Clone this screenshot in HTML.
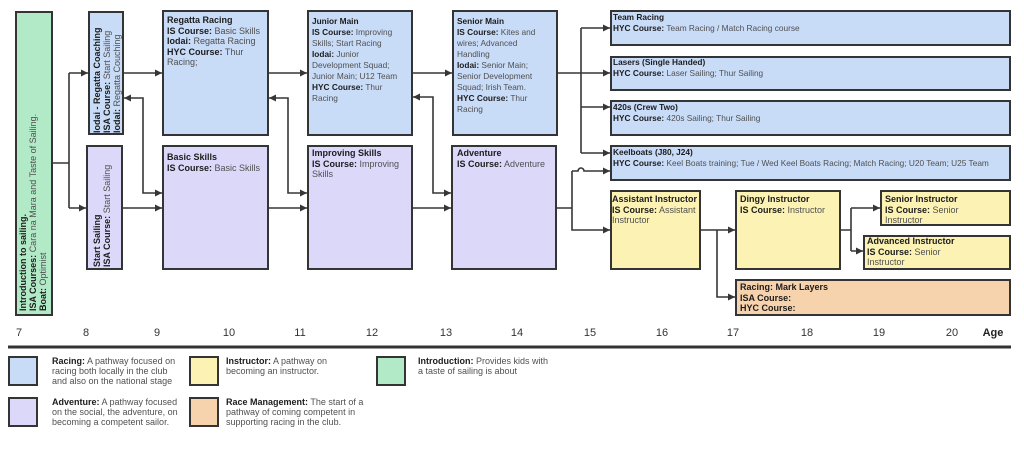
<!DOCTYPE html>
<html><head><meta charset="utf-8">
<style>
html,body{margin:0;padding:0;background:#fff;}
#c{position:relative;width:1024px;height:458px;overflow:hidden;background:#fff;font-family:"Liberation Sans",Arial,sans-serif;}
.b{position:absolute;box-sizing:border-box;border:2px solid #343434;}
.bl{background:#c8dbf7;}
.pu{background:#dcd8fa;}
.gr{background:#b2eac7;}
.ye{background:#fcf2b3;}
.or{background:#f6d2ad;}
.t{position:absolute;white-space:nowrap;color:#505050;}
.t b{color:#1c1c1c;}
.a{font-size:9px;line-height:10.5px;}
.o{font-size:8.3px;line-height:11px;}
.r{font-size:9px;line-height:10px;transform-origin:0 0;transform:rotate(-90deg);}
.n{position:absolute;top:327px;font-size:11px;line-height:13px;color:#333;transform:translateX(-50%);}
.lg{font-size:9px;line-height:10px;}
svg{position:absolute;left:0;top:0;}
</style></head><body>
<div id="c">
<!-- boxes -->
<div class="b gr" style="left:15px;top:11px;width:38px;height:305px"></div>
<div class="b bl" style="left:88px;top:11px;width:36px;height:124px"></div>
<div class="b pu" style="left:86px;top:145px;width:37px;height:125px"></div>
<div class="b bl" style="left:162px;top:10px;width:107px;height:126px"></div>
<div class="b pu" style="left:162px;top:145px;width:107px;height:125px"></div>
<div class="b bl" style="left:307px;top:10px;width:106px;height:126px"></div>
<div class="b pu" style="left:307px;top:145px;width:106px;height:125px"></div>
<div class="b bl" style="left:452px;top:10px;width:106px;height:126px"></div>
<div class="b pu" style="left:451px;top:145px;width:106px;height:125px"></div>
<div class="b bl" style="left:610px;top:10px;width:401px;height:36px"></div>
<div class="b bl" style="left:610px;top:56px;width:401px;height:35px"></div>
<div class="b bl" style="left:610px;top:100px;width:401px;height:36px"></div>
<div class="b bl" style="left:610px;top:145px;width:401px;height:36px"></div>
<div class="b ye" style="left:610px;top:190px;width:91px;height:80px"></div>
<div class="b ye" style="left:735px;top:190px;width:106px;height:80px"></div>
<div class="b ye" style="left:880px;top:190px;width:131px;height:36px"></div>
<div class="b ye" style="left:863px;top:235px;width:148px;height:35px"></div>
<div class="b or" style="left:735px;top:279px;width:276px;height:37px"></div>

<!-- rotated texts -->
<div class="t r" style="left:18px;top:311px;"><b>Introduction to sailing.</b><br><b>ISA Courses:</b> Cara na Mara and Taste of Sailing.<br><b>Boat:</b> Optimist</div>
<div class="t r" style="left:92px;top:133px;"><b>Iodai - Regatta Coaching</b><br><b>ISA Course:</b> Start Sailing<br><b>Iodai:</b> Regatta Couching</div>
<div class="t r" style="left:92px;top:267px;"><b>Start Sailing</b><br><b>ISA Course:</b> Start Sailing</div>

<!-- box texts -->
<div class="t a" style="left:167px;top:15px;"><b>Regatta Racing</b><br><b>IS Course:</b> Basic Skills<br><b>Iodai:</b> Regatta Racing<br><b>HYC Course:</b> Thur<br>Racing;</div>
<div class="t a" style="left:167px;top:152px;"><b>Basic Skills</b><br><b>IS Course:</b> Basic Skills</div>
<div class="t o" style="left:312px;top:16px;"><b>Junior Main</b><br><b>IS Course:</b> Improving<br>Skills; Start Racing<br><b>Iodai:</b> Junior<br>Development Squad;<br>Junior Main; U12 Team<br><b>HYC Course:</b> Thur<br>Racing</div>
<div class="t a" style="left:312px;top:148px;"><b>Improving Skills</b><br><b>IS Course:</b> Improving<br>Skills</div>
<div class="t o" style="left:457px;top:16px;"><b>Senior Main</b><br><b>IS Course:</b> Kites and<br>wires; Advanced<br>Handling<br><b>Iodai:</b> Senior Main;<br>Senior Development<br>Squad; Irish Team.<br><b>HYC Course:</b> Thur<br>Racing</div>
<div class="t a" style="left:457px;top:148px;"><b>Adventure</b><br><b>IS Course:</b> Adventure</div>
<div class="t o" style="left:613px;top:11.5px;"><b>Team Racing</b><br><b>HYC Course:</b> Team Racing / Match Racing course</div>
<div class="t o" style="left:613px;top:56.5px;"><b>Lasers (Single Handed)</b><br><b>HYC Course:</b> Laser Sailing; Thur Sailing</div>
<div class="t o" style="left:613px;top:101.5px;"><b>420s (Crew Two)</b><br><b>HYC Course:</b> 420s Sailing; Thur Sailing</div>
<div class="t o" style="left:613px;top:146.5px;"><b>Keelboats (J80, J24)</b><br><b>HYC Course:</b> Keel Boats training; Tue / Wed Keel Boats Racing; Match Racing; U20 Team; U25 Team</div>
<div class="t a" style="left:612px;top:194px;"><b>Assistant Instructor</b><br><b>IS Course:</b> Assistant<br>Instructor</div>
<div class="t a" style="left:740px;top:194px;"><b>Dingy Instructor</b><br><b>IS Course:</b> Instructor</div>
<div class="t a" style="left:885px;top:194px;"><b>Senior Instructor</b><br><b>IS Course:</b> Senior<br>Instructor</div>
<div class="t a" style="left:867px;top:236px;"><b>Advanced Instructor</b><br><b>IS Course:</b> Senior<br>Instructor</div>
<div class="t a" style="left:740px;top:282px;"><b>Racing: Mark Layers</b><br><b>ISA Course:</b><br><b>HYC Course:</b></div>

<!-- axis -->
<div class="n" style="left:19px">7</div>
<div class="n" style="left:86px">8</div>
<div class="n" style="left:157px">9</div>
<div class="n" style="left:229px">10</div>
<div class="n" style="left:300px">11</div>
<div class="n" style="left:372px">12</div>
<div class="n" style="left:446px">13</div>
<div class="n" style="left:517px">14</div>
<div class="n" style="left:590px">15</div>
<div class="n" style="left:662px">16</div>
<div class="n" style="left:733px">17</div>
<div class="n" style="left:807px">18</div>
<div class="n" style="left:879px">19</div>
<div class="n" style="left:952px">20</div>
<div class="n" style="left:993px;font-weight:bold;color:#222">Age</div>

<!-- legend -->
<div class="b bl" style="left:8px;top:356px;width:30px;height:30px"></div>
<div class="b pu" style="left:8px;top:397px;width:30px;height:30px"></div>
<div class="b ye" style="left:189px;top:356px;width:30px;height:30px"></div>
<div class="b or" style="left:189px;top:397px;width:30px;height:30px"></div>
<div class="b gr" style="left:376px;top:356px;width:30px;height:30px"></div>
<div class="t lg" style="left:52px;top:356px;"><b>Racing:</b> A pathway focused on<br>racing both locally in the club<br>and also on the national stage</div>
<div class="t lg" style="left:52px;top:397px;"><b>Adventure:</b> A pathway focused<br>on the social, the adventure, on<br>becoming a competent sailor.</div>
<div class="t lg" style="left:226px;top:356px;"><b>Instructor:</b> A pathway on<br>becoming an instructor.</div>
<div class="t lg" style="left:226px;top:397px;"><b>Race Management:</b> The start of a<br>pathway of coming competent in<br>supporting racing in the club.</div>
<div class="t lg" style="left:418px;top:356px;"><b>Introduction:</b> Provides kids with<br>a taste of sailing is about</div>

<svg width="1024" height="458" viewBox="0 0 1024 458">
<g fill="none" stroke="#363636" stroke-width="1.6">
<path d="M53,163 H69 M69,73 V208 M69,73 H88 M69,208 H86"/>
<path d="M124,73 H162 M123,208 H162"/>
<path d="M124,98 H143 V193 H162"/>
<path d="M269,73 H307 M269,208 H307"/>
<path d="M269,98 H288 V193 H307"/>
<path d="M413,73 H452 M413,208 H451"/>
<path d="M413,97 H433 V193 H451"/>
<path d="M558,73 H581 M581,28 V153 M581,28 H610 M581,73 H610 M581,107 H610 M581,153 H610"/>
<path d="M557,208 H572 M572,171 V230 H610 M572,171 H578 A3,3 0 0 1 584,171 H610"/>
<path d="M701,230 H735 M717,230 V297 H735"/>
<path d="M841,230 H851 M851,208 V251 M851,208 H880 M851,251 H863"/>
</g>
<path d="M8,347 H1011" stroke="#333" stroke-width="3"/>
<g fill="#363636">
<polygon points="88,73 81,69.5 81,76.5"/>
<polygon points="86,208 79,204.5 79,211.5"/>
<polygon points="162,73 155,69.5 155,76.5"/>
<polygon points="162,208 155,204.5 155,211.5"/>
<polygon points="124,98 131,94.5 131,101.5"/>
<polygon points="162,193 155,189.5 155,196.5"/>
<polygon points="307,73 300,69.5 300,76.5"/>
<polygon points="307,208 300,204.5 300,211.5"/>
<polygon points="269,98 276,94.5 276,101.5"/>
<polygon points="307,193 300,189.5 300,196.5"/>
<polygon points="452,73 445,69.5 445,76.5"/>
<polygon points="451,208 444,204.5 444,211.5"/>
<polygon points="413,97 420,93.5 420,100.5"/>
<polygon points="451,193 444,189.5 444,196.5"/>
<polygon points="610,28 603,24.5 603,31.5"/>
<polygon points="610,73 603,69.5 603,76.5"/>
<polygon points="610,107 603,103.5 603,110.5"/>
<polygon points="610,153 603,149.5 603,156.5"/>
<polygon points="610,171 603,167.5 603,174.5"/>
<polygon points="610,230 603,226.5 603,233.5"/>
<polygon points="735,230 728,226.5 728,233.5"/>
<polygon points="735,297 728,293.5 728,300.5"/>
<polygon points="880,208 873,204.5 873,211.5"/>
<polygon points="863,251 856,247.5 856,254.5"/>
</g>
</svg>
</div>
</body></html>
